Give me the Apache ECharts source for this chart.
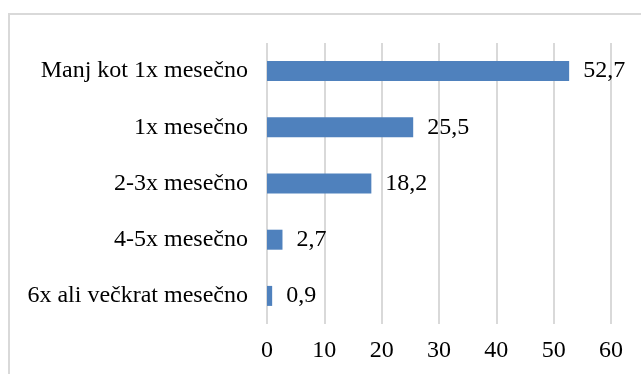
<!DOCTYPE html>
<html>
<head>
<meta charset="utf-8">
<script src="https://cdn.jsdelivr.net/npm/echarts@6/dist/echarts.min.js"></script>
<style>
  html, body { margin: 0; padding: 0; background: #fff; }
  #chart { width: 641px; height: 374px; }
</style>
</head>
<body>
<div id="chart"></div>
<script>
const categories = [
  '6x ali večkrat mesečno',
  '4-5x mesečno',
  '2-3x mesečno',
  '1x mesečno',
  'Manj kot 1x mesečno'
]
const values = [0.9, 2.7, 18.2, 25.5, 52.7]

const fontFamily = '"Liberation Serif", "Times New Roman", serif'
const fmt = (v) => String(v).replace('.', ',')

const chart = echarts.init(document.getElementById('chart'))

chart.setOption({
  animation: false,
  textStyle: { fontFamily },
  graphic: [
    {
      type: 'rect',
      shape: { x: 9, y: 14, width: 700, height: 400 },
      style: { fill: 'none', stroke: '#d9d9d9', lineWidth: 2 },
      silent: true
    }
  ],
  grid: { left: 267, right: 30, top: 43, bottom: 50 },
  xAxis: {
    type: 'value',
    min: 0,
    max: 60,
    interval: 10,
    axisLine: { show: false },
    axisTick: { show: false },
    splitLine: { lineStyle: { color: '#d9d9d9', width: 2 } },
    axisLabel: { color: '#000', fontSize: 24, fontFamily, margin: 15 }
  },
  yAxis: {
    type: 'category',
    data: categories,
    axisLine: { show: false },
    axisTick: { show: false },
    axisLabel: { color: '#000', fontSize: 24, fontFamily, margin: 19 }
  },
  series: [
    {
      type: 'bar',
      data: values,
      barWidth: 20,
      itemStyle: { color: '#4f81bd' },
      label: {
        show: true,
        position: 'right',
        distance: 14,
        color: '#000',
        fontSize: 24,
        fontFamily,
        formatter: (p) => fmt(p.value)
      }
    }
  ]
})

window.addEventListener('resize', () => chart.resize())
</script>
</body>
</html>
